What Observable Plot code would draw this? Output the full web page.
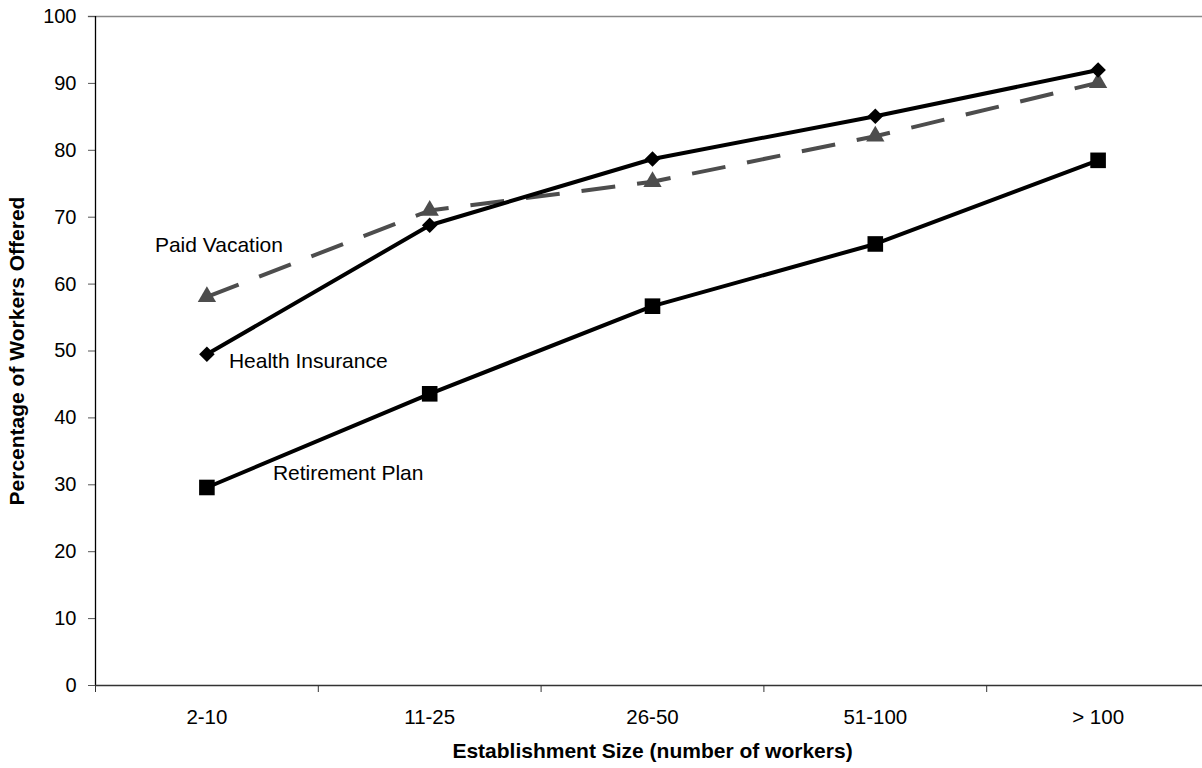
<!DOCTYPE html>
<html>
<head>
<meta charset="utf-8">
<script src="https://cdn.jsdelivr.net/npm/d3@7"></script>
<script src="https://cdn.jsdelivr.net/npm/@observablehq/plot@0.6"></script>
<style>
  html, body { margin: 0; padding: 0; background: #fff; }
  #chart svg { display: block; }
</style>
</head>
<body>
<div id="chart"></div>
<script>
const categories = ["2-10", "11-25", "26-50", "51-100", "> 100"];
const healthInsurance = [49.5, 68.8, 78.7, 85.1, 92.0];
const paidVacation = [58.1, 71.0, 75.3, 82.1, 90.1];
const retirementPlan = [29.6, 43.6, 56.7, 66.0, 78.5];
const yTicks = [0, 10, 20, 30, 40, 50, 60, 70, 80, 90, 100];
const seriesNames = ["Health Insurance", "Paid Vacation", "Retirement Plan"];

const pos = c => categories.indexOf(c) + 0.5;
const toRows = (name, vals) => categories.map((c, i) => ({series: name, size: c, value: vals[i]}));
const health = toRows(seriesNames[0], healthInsurance);
const vacation = toRows(seriesNames[1], paidVacation);
const retirement = toRows(seriesNames[2], retirementPlan);
const boundaries = d3.range(categories.length + 1);

const chart = Plot.plot({
  width: 1202,
  height: 768,
  marginLeft: 95,
  marginRight: 0,
  marginTop: 16,
  marginBottom: 83,
  style: {fontFamily: "'Liberation Sans', Arial, sans-serif", fontSize: "20px", color: "#000", background: "#fff", overflow: "visible"},
  x: {type: "linear", domain: [0, categories.length], range: [95, 1209]},
  y: {domain: [0, 100], range: [685, 16]},
  marks: [
    // top border
    Plot.ruleY([100], {x1: -0.032, x2: 5, stroke: "#888", strokeWidth: 1.5}),
    // y axis
    Plot.axisY({ticks: yTicks, tickSize: 7, tickPadding: 12, stroke: "#555", label: null, fontSize: 20}),
    Plot.ruleX([0], {y1: 0, y2: 100, stroke: "#000", strokeWidth: 1.3}),
    // x axis: boundary ticks
    Plot.axisX({ticks: boundaries, tickSize: 7, tickFormat: () => "", stroke: "#333", label: null}),
    Plot.ruleY([0], {stroke: "#333", strokeWidth: 1.5}),
    // x axis labels at category centers
    Plot.axisX({ticks: categories.map(pos), tickSize: 0, tickPadding: 24, tickFormat: v => categories[Math.floor(v)], label: null, fontSize: 20.5}),
    // lines
    Plot.line(vacation, {x: d => pos(d.size), y: "value", stroke: "#4d4d4d", strokeWidth: 4, strokeDasharray: "34,22", strokeLinecap: "butt"}),
    Plot.line(health, {x: d => pos(d.size), y: "value", stroke: "#000", strokeWidth: 4}),
    Plot.line(retirement, {x: d => pos(d.size), y: "value", stroke: "#000", strokeWidth: 4}),
    // markers
    Plot.dot(vacation, {x: d => pos(d.size), y: "value", symbol: "triangle", r: 6.8, fill: "#4d4d4d"}),
    Plot.dot(health, {x: d => pos(d.size), y: "value", symbol: "diamond2", r: 7, fill: "#000"}),
    Plot.dot(retirement, {x: d => pos(d.size), y: "value", symbol: "square", r: 8.8, fill: "#000"}),
    // series labels
    Plot.text([vacation[0]], {x: d => pos(d.size), y: "value", text: "series", textAnchor: "start", dx: -52, dy: -52, fontSize: 21, fill: "#000"}),
    Plot.text([health[0]], {x: d => pos(d.size), y: "value", text: "series", textAnchor: "start", dx: 22, dy: 7, fontSize: 21, fill: "#000"}),
    Plot.text([retirement[0]], {x: d => pos(d.size), y: "value", text: "series", textAnchor: "start", dx: 66, dy: -14, fontSize: 21, fill: "#000"}),
    // axis titles
    Plot.text(["Establishment Size (number of workers)"], {x: categories.length / 2, frameAnchor: "bottom", dy: 72, fontWeight: "bold", fontSize: 21, fill: "#000"}),
    Plot.text(["Percentage of Workers Offered"], {frameAnchor: "left", y: 50, rotate: -90, textAnchor: "middle", dx: -78, fontWeight: "bold", fontSize: 21, fill: "#000"})
  ]
});
document.getElementById("chart").appendChild(chart);
</script>
</body>
</html>
